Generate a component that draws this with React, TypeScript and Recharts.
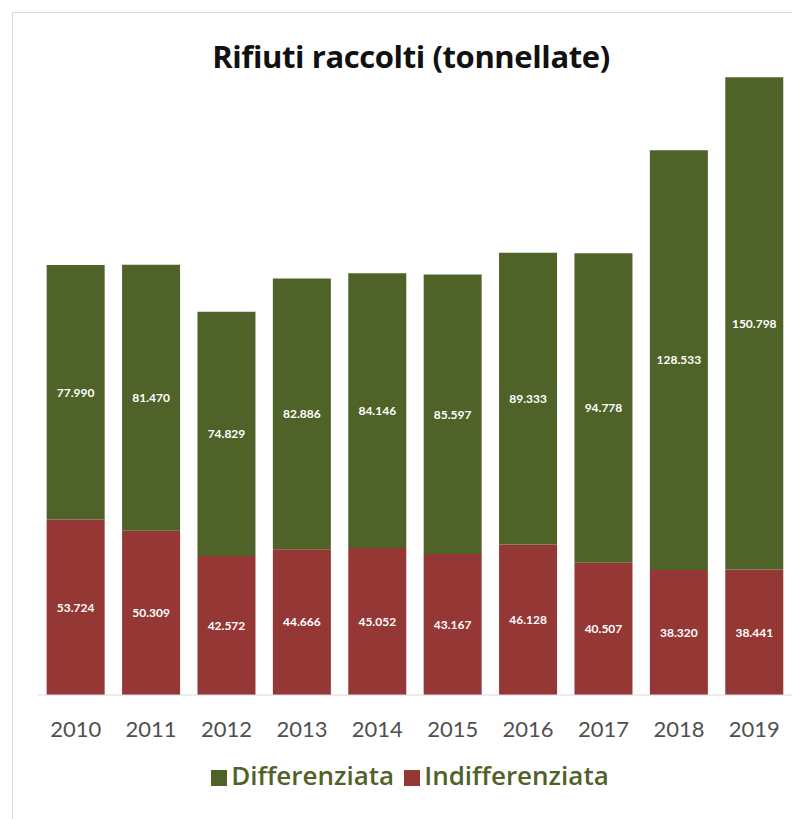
import { BarChart, Bar, XAxis, YAxis, Legend, LabelList } from "recharts"

const YEARS = ["2010", "2011", "2012", "2013", "2014", "2015", "2016", "2017", "2018", "2019"]
const DIFFERENZIATA = [77990, 81470, 74829, 82886, 84146, 85597, 89333, 94778, 128533, 150798]
const INDIFFERENZIATA = [53724, 50309, 42572, 44666, 45052, 43167, 46128, 40507, 38320, 38441]

const GREEN = "#4f6228"
const RED = "#953735"
const FONT = "Lato, 'Open Sans', sans-serif"
const WIDE = "'Open Sans', sans-serif"

const fmt = (v: any) => String(v).replace(/\B(?=(\d{3})+(?!\d))/g, ".")

const data = YEARS.map((year, i) => ({
  year,
  diff: DIFFERENZIATA[i],
  indiff: INDIFFERENZIATA[i],
}))

export default function App() {
  return (
    <div
      style={{
        position: "absolute",
        left: 0,
        top: 0,
        width: 792,
        height: 819,
        background: "#fff",
        fontFamily: FONT,
        overflow: "hidden",
      }}
    >
      <div
        style={{
          position: "absolute",
          left: 12,
          top: 12,
          width: 800,
          height: 820,
          borderLeft: "1px solid #d9d9d9",
          borderTop: "1px solid #d9d9d9",
        }}
      />
      <div
        style={{
          position: "absolute",
          left: 0,
          width: 822,
          top: 35,
          textAlign: "center",
          fontSize: 31,
          fontWeight: 700,
          fontFamily: WIDE,
          letterSpacing: -0.4,
          color: "#111",
        }}
      >
        Rifiuti raccolti (tonnellate)
      </div>
      <BarChart
        width={792}
        height={819}
        data={data}
        margin={{ top: 42, right: 0, left: 38, bottom: 26 }}
        barCategoryGap="11.5%"
      >
        <XAxis
          dataKey="year"
          height={62}
          axisLine={{ stroke: "#d9d9d9" }}
          tickLine={false}
          tickMargin={20}
          tick={{ fill: "#505050", fontSize: 22, fontFamily: FONT }}
        />
        <YAxis hide domain={[0, 200000]} />
        <Legend
          verticalAlign="bottom"
          iconType="square"
          iconSize={16}
          wrapperStyle={{ fontSize: 26, fontFamily: WIDE, fontWeight: 600 }}
          formatter={(value: string) => <span style={{ color: GREEN }}>{value}</span>}
        />
        <Bar dataKey="indiff" name="Indifferenziata" stackId="a" fill={RED} isAnimationActive={false} legendType="square">
          <LabelList dataKey="indiff" position="center" formatter={fmt} fill="#fff" fontSize={12} fontWeight={700} fontFamily={FONT} />
        </Bar>
        <Bar dataKey="diff" name="Differenziata" stackId="a" fill={GREEN} isAnimationActive={false} legendType="square">
          <LabelList dataKey="diff" position="center" formatter={fmt} fill="#fff" fontSize={12} fontWeight={700} fontFamily={FONT} />
        </Bar>
      </BarChart>
    </div>
  )
}
